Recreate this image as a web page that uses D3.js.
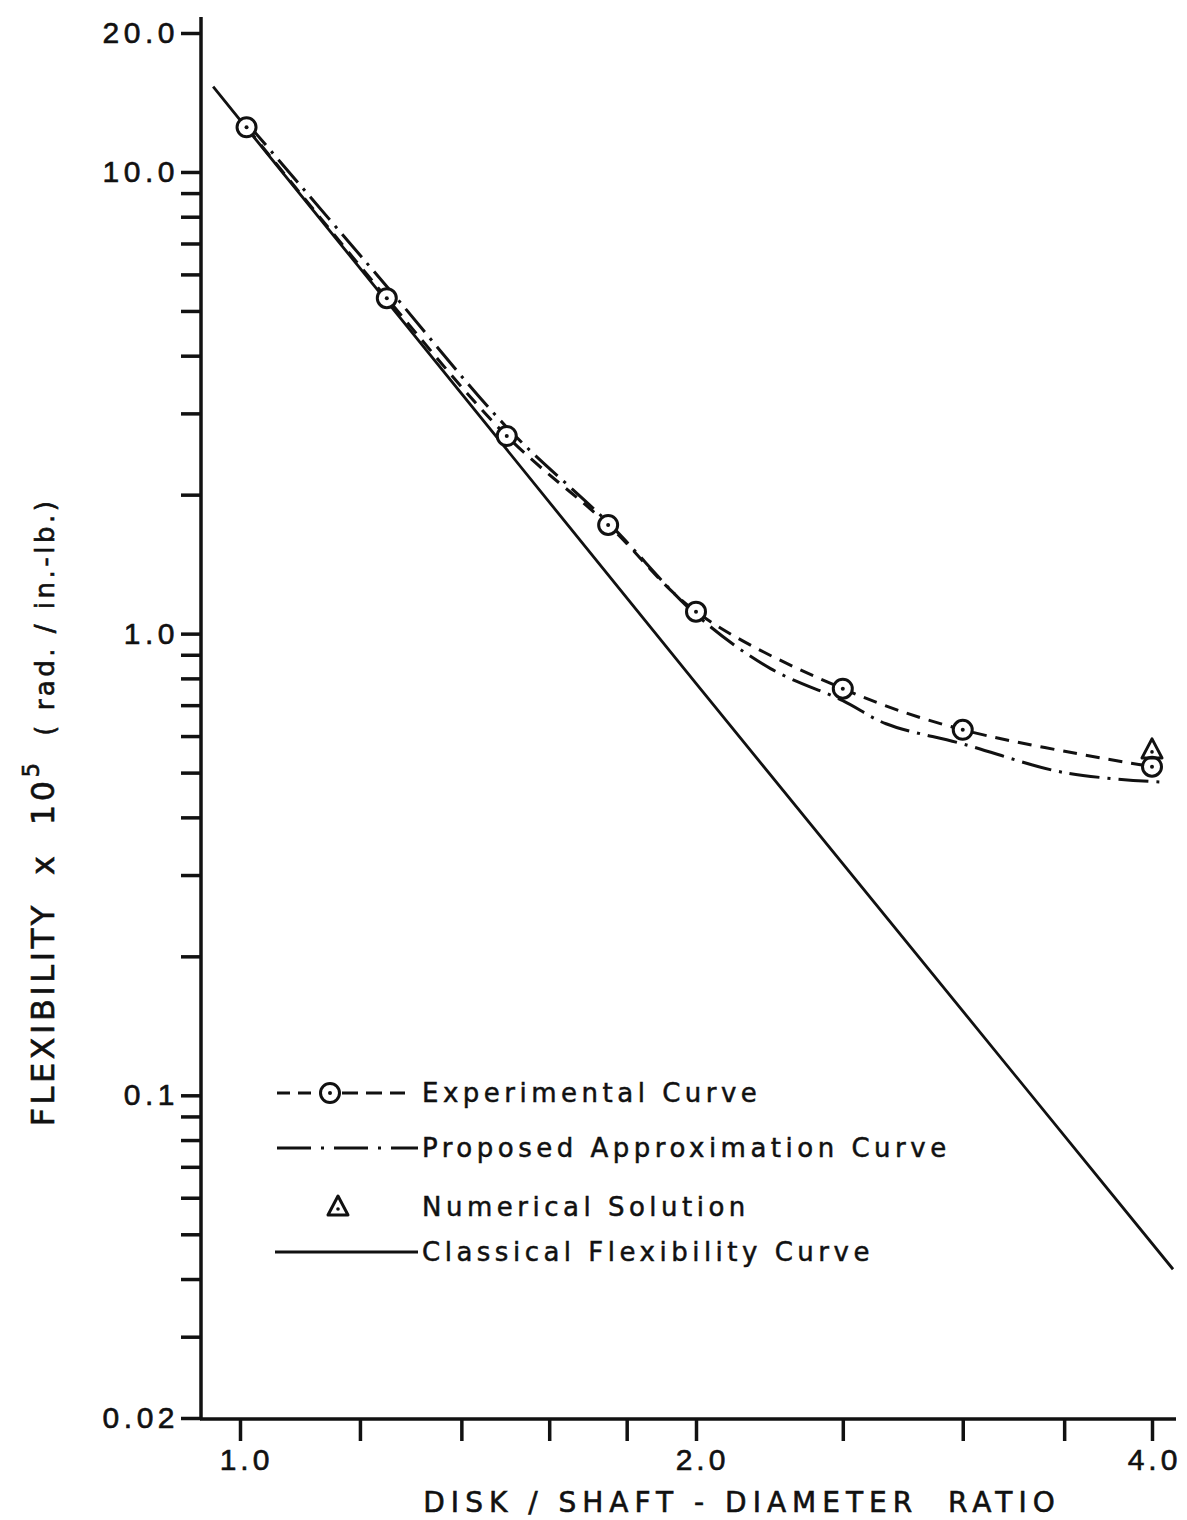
<!DOCTYPE html>
<html>
<head>
<meta charset="utf-8">
<script src="https://cdn.jsdelivr.net/npm/d3@7"></script>
<style>
  body { margin: 0; background: #fff; }
  svg { display: block; font-family: 'DejaVu Sans', sans-serif; }
</style>
</head>
<body>
<div id="chart"></div>
<script>
// values: [diameter ratio, flexibility x 10^5]
const experimental = [[1.01, 12.5], [1.25, 5.33], [1.5, 2.68], [1.75, 1.72], [2.0, 1.116], [2.5, 0.76], [3.0, 0.619], [4.0, 0.515]];
const proposed = [[1.01, 12.8], [1.25, 5.65], [1.5, 2.8], [1.75, 1.74], [2.0, 1.10], [2.24, 0.84], [2.5, 0.716], [2.67, 0.638], [3.0, 0.577], [3.5, 0.50], [4.05, 0.477]];
const numerical = [[4.0, 0.56]];
const classical = [[0.96, 15.3], [2.0, 0.78], [4.13, 0.042]];

const xTicks = [1.0, 1.2, 1.4, 1.6, 1.8, 2.0, 2.5, 3.0, 3.5, 4.0];
const xTickLabels = { 1.0: '1.0', 2.0: '2.0', 4.0: '4.0' };
const yMinorTicks = [0.02, 0.03, 0.04, 0.05, 0.06, 0.07, 0.08, 0.09, 0.1, 0.2, 0.3, 0.4, 0.5, 0.6, 0.7, 0.8, 0.9, 1, 2, 3, 4, 5, 6, 7, 8, 9, 10, 20];
const yTickLabels = { 0.02: '0.02', 0.1: '0.1', 1: '1.0', 10: '10.0', 20: '20.0' };
const legendLabels = ['Experimental Curve', 'Proposed Approximation Curve', 'Numerical Solution', 'Classical Flexibility Curve'];

const width = 1187, height = 1520;
const svg = d3.select('#chart').append('svg')
    .attr('width', width).attr('height', height);

const x = d3.scaleLog().domain([1, 4]).range([240, 1152]);
const y = d3.scaleLog().domain([0.02, 20]).range([1418, 33]);

const ink = '#111';

// axes lines
svg.append('line')
    .attr('x1', 201).attr('x2', 201)
    .attr('y1', 17).attr('y2', y(0.02) + 2)
    .attr('stroke', ink).attr('stroke-width', 3.5);
svg.append('line')
    .attr('x1', 200).attr('x2', 1176)
    .attr('y1', y(0.02) + 1).attr('y2', y(0.02) + 1)
    .attr('stroke', ink).attr('stroke-width', 3.5);

// y ticks (left, every 1..9 of each decade)
const yAxis = d3.axisLeft(y).tickValues(yMinorTicks).tickSize(20)
    .tickFormat(function(d) { return yTickLabels[d] || ''; });
const gy = svg.append('g').attr('transform', 'translate(201,0)').call(yAxis);
gy.select('.domain').remove();
gy.selectAll('.tick line').attr('stroke', ink).attr('stroke-width', 3.5);
gy.selectAll('.tick text')
    .attr('x', -22)
    .attr('fill', ink)
    .attr('stroke', ink).attr('stroke-width', 0.6)
    .style('font-size', '30px')
    .style('letter-spacing', '4.5px');

// x ticks
const xAxis = d3.axisBottom(x).tickValues(xTicks).tickSize(22)
    .tickFormat(function(d) { return xTickLabels[d] || ''; });
const gx = svg.append('g').attr('transform', 'translate(0,' + (y(0.02) + 1) + ')').call(xAxis);
gx.select('.domain').remove();
gx.selectAll('.tick line').attr('stroke', ink).attr('stroke-width', 3.5);
gx.selectAll('.tick text')
    .attr('y', 30)
    .attr('dx', function(d) { return d === 4 ? 2 : 6; })
    .attr('fill', ink)
    .attr('stroke', ink).attr('stroke-width', 0.6)
    .style('font-size', '30px')
    .style('letter-spacing', '4px');

// axis titles
svg.append('text')
    .attr('x', 742).attr('y', 1512)
    .attr('text-anchor', 'middle')
    .attr('fill', ink)
    .attr('stroke', ink).attr('stroke-width', 0.6)
    .style('font-size', '28px')
    .style('letter-spacing', '6px')
    .attr('xml:space', 'preserve')
    .text('DISK / SHAFT - DIAMETER  RATIO');

const yTitle = svg.append('text')
    .attr('transform', 'translate(54,812) rotate(-90)')
    .attr('text-anchor', 'middle')
    .attr('fill', ink)
    .attr('stroke', ink).attr('stroke-width', 0.6)
    .style('letter-spacing', '3.5px')
    .attr('xml:space', 'preserve');
yTitle.append('tspan').style('font-size', '32px').text('FLEXIBILITY  x  10');
yTitle.append('tspan').style('font-size', '23px').attr('dy', -15).text('5');
yTitle.append('tspan').style('font-size', '26px').attr('dy', 15).text('  ( rad. / in.-lb.)');

const line = d3.line()
    .x(function(d) { return x(d[0]); })
    .y(function(d) { return y(d[1]); });

// classical flexibility curve (straight on log-log)
svg.append('path')
    .datum(classical)
    .attr('d', line)
    .attr('fill', 'none').attr('stroke', ink).attr('stroke-width', 2.8);

// experimental curve
svg.append('path')
    .datum(experimental)
    .attr('d', line.curve(d3.curveCatmullRom))
    .attr('fill', 'none').attr('stroke', ink).attr('stroke-width', 3)
    .attr('stroke-dasharray', '14,9');

// proposed approximation curve
svg.append('path')
    .datum(proposed)
    .attr('d', line.curve(d3.curveCatmullRom))
    .attr('fill', 'none').attr('stroke', ink).attr('stroke-width', 3)
    .attr('stroke-dasharray', '30,8,3,8');

function drawCircleMarker(g, cx, cy) {
    g.append('circle').attr('cx', cx).attr('cy', cy).attr('r', 9.5)
        .attr('fill', '#fff').attr('stroke', ink).attr('stroke-width', 3);
    g.append('circle').attr('cx', cx).attr('cy', cy).attr('r', 2).attr('fill', ink);
}
function drawTriangleMarker(g, cx, cy) {
    g.append('path')
        .attr('d', 'M' + cx + ',' + (cy - 11) + 'L' + (cx + 10) + ',' + (cy + 8) + 'L' + (cx - 10) + ',' + (cy + 8) + 'Z')
        .attr('fill', 'none').attr('stroke', ink).attr('stroke-width', 3).attr('stroke-linejoin', 'round');
    g.append('circle').attr('cx', cx).attr('cy', cy + 2).attr('r', 1.8).attr('fill', ink);
}

const gMarks = svg.append('g');
experimental.forEach(function(d) { drawCircleMarker(gMarks, x(d[0]), y(d[1])); });
numerical.forEach(function(d) { drawTriangleMarker(gMarks, x(d[0]), y(d[1])); });

// legend
const legendY = [1093, 1148, 1207, 1252];
const gLeg = svg.append('g');
// experimental sample
gLeg.append('line').attr('x1', 277).attr('x2', 318).attr('y1', legendY[0]).attr('y2', legendY[0])
    .attr('stroke', ink).attr('stroke-width', 3).attr('stroke-dasharray', '13,8');
gLeg.append('line').attr('x1', 342).attr('x2', 405).attr('y1', legendY[0]).attr('y2', legendY[0])
    .attr('stroke', ink).attr('stroke-width', 3).attr('stroke-dasharray', '16,8');
drawCircleMarker(gLeg, 330, legendY[0]);
// proposed sample
gLeg.append('line').attr('x1', 277).attr('x2', 418).attr('y1', legendY[1]).attr('y2', legendY[1])
    .attr('stroke', ink).attr('stroke-width', 3).attr('stroke-dasharray', '34,10,3,10');
// numerical sample
drawTriangleMarker(gLeg, 338, legendY[2]);
// classical sample
gLeg.append('line').attr('x1', 275).attr('x2', 418).attr('y1', legendY[3]).attr('y2', legendY[3])
    .attr('stroke', ink).attr('stroke-width', 2.8);

gLeg.selectAll('text.leg')
    .data(legendLabels)
    .join('text')
    .attr('class', 'leg')
    .attr('x', 422)
    .attr('y', function(d, i) { return legendY[i] + 9; })
    .attr('fill', ink)
    .attr('stroke', ink).attr('stroke-width', 0.5)
    .style('font-size', '26px')
    .style('letter-spacing', '4.5px')
    .text(function(d) { return d; });
</script>
</body>
</html>
